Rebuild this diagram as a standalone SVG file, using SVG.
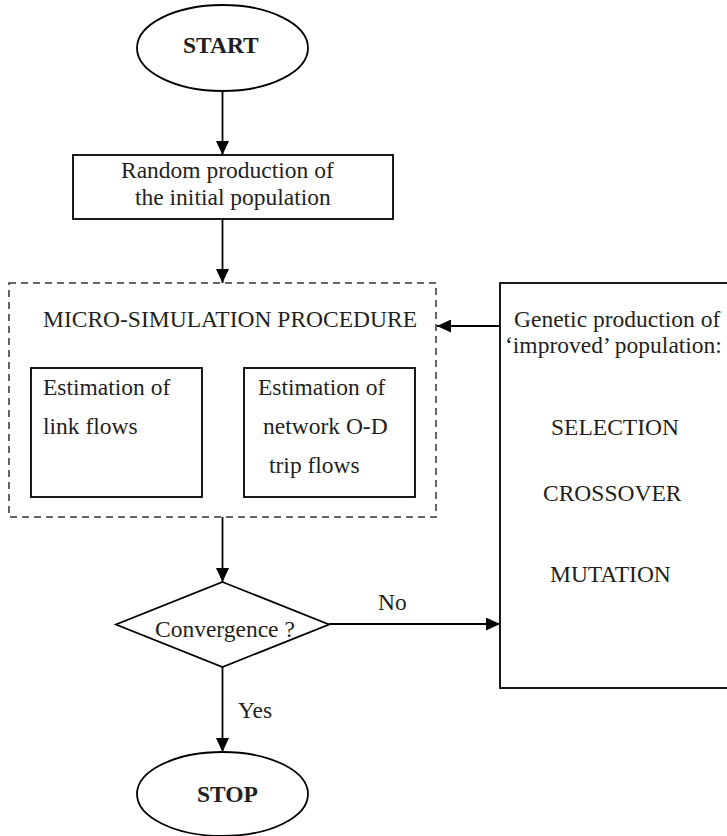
<svg xmlns="http://www.w3.org/2000/svg" width="727" height="836" viewBox="0 0 727 836">
<defs>
<style>
text{font-family:"Liberation Serif","Times New Roman",serif;font-size:23.5px;fill:#231f20}
.b{font-weight:bold}
.s{fill:#fff;stroke:#000;stroke-width:1.8}
.d{fill:none;stroke:#333;stroke-width:1.5;stroke-dasharray:7 5}
.c{fill:none;stroke:#000;stroke-width:1.8}
</style>
<marker id="ah" markerUnits="userSpaceOnUse" markerWidth="14" markerHeight="13" refX="14" refY="6.5" orient="auto">
<path d="M0,0 L14,6.5 L0,13 z" fill="#000"/>
</marker>
</defs>
<rect width="727" height="836" fill="#fff"/>
<g id="connectors">
<line class="c" x1="222.5" y1="91" x2="222.5" y2="155" marker-end="url(#ah)"/>
<line class="c" x1="222.5" y1="219" x2="222.5" y2="283" marker-end="url(#ah)"/>
<line class="c" x1="222.5" y1="517" x2="222.5" y2="582" marker-end="url(#ah)"/>
<line class="c" x1="222.5" y1="667" x2="222.5" y2="752" marker-end="url(#ah)"/>
<line class="c" x1="500" y1="326" x2="437" y2="326" marker-end="url(#ah)"/>
<line class="c" x1="329" y1="624" x2="500" y2="624" marker-end="url(#ah)"/>
<text x="378" y="610">No</text>
<text x="238" y="718">Yes</text>
</g>
<g id="start">
<ellipse class="s" cx="222.5" cy="48" rx="85.5" ry="43"/>
<text class="b" x="183" y="53">START</text>
</g>
<g id="init">
<rect class="s" x="73" y="155" width="320" height="64"/>
<text x="121" y="178">Random production of</text>
<text x="135" y="205">the initial population</text>
</g>
<g id="micro">
<rect class="d" x="9" y="283" width="427" height="234"/>
<text x="43" y="327">MICRO-SIMULATION PROCEDURE</text>
</g>
<g id="linkflows">
<rect class="s" x="31" y="368" width="171" height="129"/>
<text x="43" y="395">Estimation of</text>
<text x="43" y="434">link flows</text>
</g>
<g id="odflows">
<rect class="s" x="244" y="368" width="171" height="129"/>
<text x="258" y="395">Estimation of</text>
<text x="263" y="434">network O-D</text>
<text x="269" y="473">trip flows</text>
</g>
<g id="genetic">
<rect class="s" x="500" y="283" width="240" height="405"/>
<text x="514" y="327">Genetic production of</text>
<text x="505" y="353">‘improved’ population:</text>
<text x="551" y="435">SELECTION</text>
<text x="543" y="501">CROSSOVER</text>
<text x="550" y="582">MUTATION</text>
</g>
<g id="convergence">
<polygon class="s" points="222.5,582 329,624.5 222.5,667 116,624.5"/>
<text x="155" y="637">Convergence ?</text>
</g>
<g id="stop">
<ellipse class="s" cx="222.5" cy="794" rx="85.5" ry="42"/>
<text class="b" x="197" y="802">STOP</text>
</g>
</svg>
